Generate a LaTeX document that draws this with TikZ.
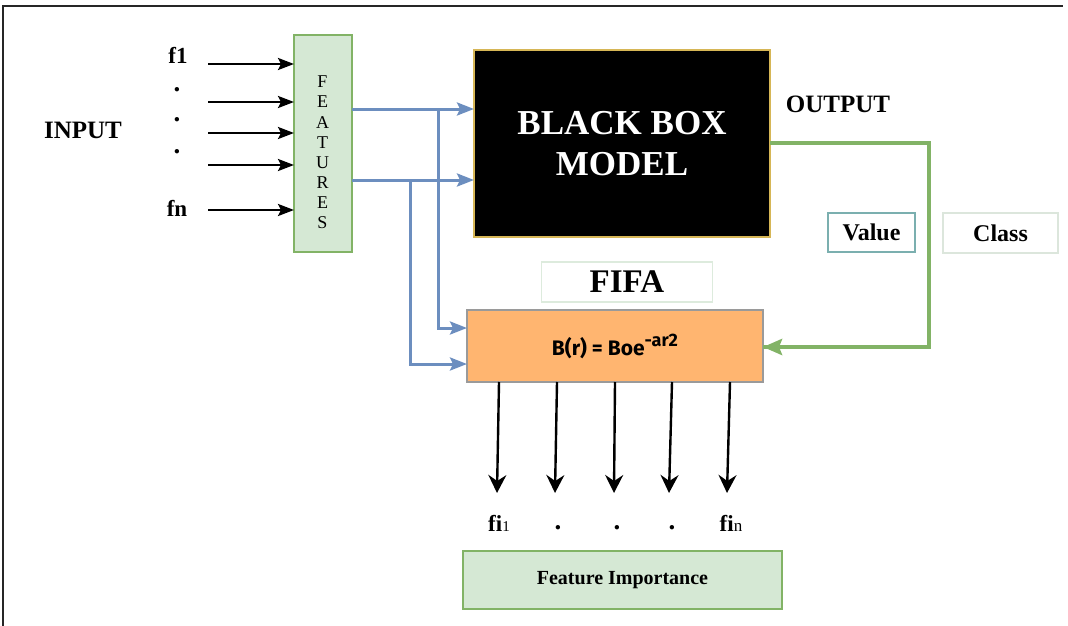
\documentclass[tikz,border=0pt]{standalone}
\usepackage{fontspec}
\setmainfont{Liberation Serif}
\newfontfamily\formfont{Fira Sans}
\usetikzlibrary{arrows.meta,calc}
\definecolor{gfill}{HTML}{D5E8D4}
\definecolor{gdraw}{HTML}{82B366}
\definecolor{bline}{HTML}{6C8EBF}
\definecolor{gold}{HTML}{D6B656}
\definecolor{orfill}{HTML}{FFB570}
\definecolor{ordraw}{HTML}{9A9A9A}
\definecolor{fifadraw}{HTML}{DDEBDD}
\definecolor{valdraw}{HTML}{7BAFAF}
\definecolor{clsdraw}{HTML}{DCE6DC}
\tikzset{
  box/.style={draw, inner sep=0pt, outer sep=0pt},
  lbl/.style={inner sep=0pt, outer sep=0pt, font=\bfseries},
  blk/.style={line width=2.4pt, black, -{Stealth[length=16pt,width=12pt,inset=3pt]}},
  blu/.style={line width=3pt, bline, -{Stealth[length=17pt,width=13pt,inset=3pt]}},
  grn/.style={line width=4pt, gdraw},
  dwn/.style={line width=2.4pt, black, -{Stealth[length=18pt,width=18pt,inset=6pt]}},
}
\begin{document}
\begin{tikzpicture}[x=1pt,y=-1pt]
\useasboundingbox (0,0) rectangle (1068,626);
% frame
\coordinate (fr1) at (3,626);
\coordinate (fr2) at (3,6);
\coordinate (fr3) at (1063,6);
\draw[line width=2.5pt, black!85] (fr1) -- (fr2) -- (fr3);

% nodes
\node[box, fill=gfill, draw=gdraw, line width=1.2pt, minimum width=58pt, minimum height=217pt] (F) at (323,143.5) {};
\foreach \l [count=\i from 0] in {F,E,A,T,U,R,E,S}
  \node[inner sep=0pt, font=\fontsize{18}{18}\selectfont] (L\i) at (322.5,{82+20.1*\i}) {\l};

\node[box, fill=black, draw=gold, line width=1.5pt, minimum width=296pt, minimum height=187pt,
      text=white, align=center, font=\bfseries\fontsize{35}{41}\selectfont] (BB) at (622,143.5) {BLACK BOX\\MODEL};

\node[box, fill=orfill, draw=ordraw, line width=1.2pt, minimum width=296pt, minimum height=72pt] (OR) at (615,346)
  {\formfont\bfseries\fontsize{21}{21}\selectfont B(r) = Boe\raisebox{9pt}{\fontsize{18}{18}\selectfont -ar2}};

\node[box, fill=white, draw=fifadraw, line width=1.2pt, minimum width=171pt, minimum height=40pt,
      font=\bfseries\fontsize{33}{33}\selectfont] (FIFA) at (627,282) {FIFA};

\node[box, draw=valdraw, line width=1.1pt, minimum width=87pt, minimum height=39pt,
      font=\bfseries\fontsize{24}{24}\selectfont] (V) at (871.5,232.5) {Value};
\node[box, draw=clsdraw, line width=1.1pt, minimum width=115pt, minimum height=40pt,
      font=\bfseries\fontsize{24}{24}\selectfont] (C) at (1000.5,233) {Class};

\node[box, fill=gfill, draw=gdraw, line width=1.2pt, minimum width=319pt, minimum height=58pt,
      font=\bfseries\fontsize{20}{20}\selectfont] (FI) at (622.5,580) {Feature Importance};

% labels
\node[lbl, font=\bfseries\fontsize{25}{25}\selectfont] (IN) at (83,130) {INPUT};
\node[lbl, font=\bfseries\fontsize{25}{25}\selectfont] (OUT) at (838,104) {OUTPUT};
\node[lbl, font=\bfseries\fontsize{23}{23}\selectfont] (f1) at (178,55) {f1};
\node[lbl, font=\bfseries\fontsize{27}{27}\selectfont] (d1) at (177,90) {.};
\node[lbl, font=\bfseries\fontsize{27}{27}\selectfont] (d2) at (177,120) {.};
\node[lbl, font=\bfseries\fontsize{27}{27}\selectfont] (d3) at (177,152) {.};
\node[lbl, font=\bfseries\fontsize{23}{23}\selectfont] (fn) at (177,208) {fn};

\node[lbl, font=\fontsize{23}{23}\selectfont] (fi1) at (499,523) {\textbf{fi}{\fontsize{15}{15}\selectfont 1}};
\node[lbl, font=\bfseries\fontsize{27}{27}\selectfont] (e1) at (558,528) {.};
\node[lbl, font=\bfseries\fontsize{27}{27}\selectfont] (e2) at (617,528) {.};
\node[lbl, font=\bfseries\fontsize{27}{27}\selectfont] (e3) at (672,528) {.};
\node[lbl, font=\fontsize{23}{23}\selectfont] (fin) at (731,523) {\textbf{fi}{\fontsize{17}{17}\selectfont n}};

% input arrows
\foreach \y [count=\i] in {64,102,133,165,210} {
  \coordinate (s\i) at (208,\y);
  \draw[blk] (s\i) -- (s\i -| F.west);
}

% blue connectors
\coordinate (b1) at (360,109);
\coordinate (b2) at (360,180);
\coordinate (j1) at (438,109);
\coordinate (j2) at (410,180);
\coordinate (o1) at (440,328);
\coordinate (o2) at (440,364);
\draw[blu] (b1 -| F.east) -- (b1 -| BB.west);
\draw[blu] (b2 -| F.east) -- (b2 -| BB.west);
\draw[blu] (j1) |- (o1 -| OR.west);
\draw[blu] (j2) |- (o2 -| OR.west);

% green feedback
\coordinate (g1) at (800,143);
\coordinate (g2) at (929,143);
\coordinate (g3) at (929,347);
\draw[grn, line join=miter] (g1 -| BB.east) -- (g2) -- (g3) -- (g3 -| OR.east);
\draw[grn, -{Stealth[length=19pt,width=16pt,inset=3pt]}] (g3) -- (g3 -| OR.east);

% output arrows
\foreach \xa/\xb [count=\i] in {499/497,557/555,615/614,672/669,730/727} {
  \coordinate (t\i) at (\xa,382);
  \coordinate (u\i) at (\xb,493);
  \draw[dwn] (t\i) -- (u\i);
}
\end{tikzpicture}
\end{document}
